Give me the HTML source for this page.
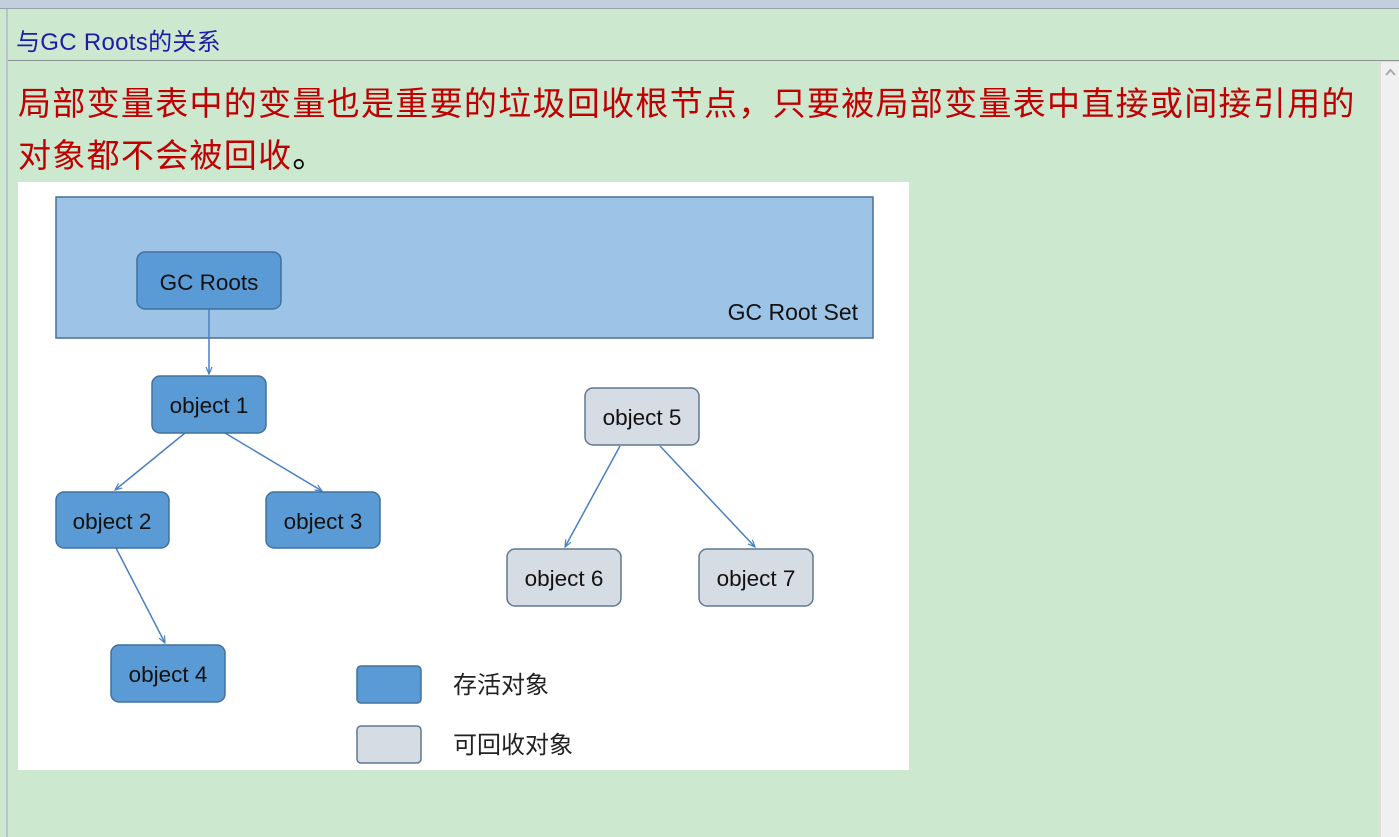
<!DOCTYPE html>
<html><head><meta charset="utf-8"><style>
body{margin:0;width:1399px;height:837px;background:#cce8cf;position:relative;overflow:hidden;font-family:"Liberation Sans","Noto Sans CJK SC",sans-serif}
.top{position:absolute;left:0;top:0;width:1399px;height:8px;background:#c3cfdc;border-bottom:1px solid #9aa3ad}
.lb{position:absolute;left:6px;top:9px;width:2px;height:828px;background:#b8c4c8}
.hd{position:absolute;left:16px;top:22px;font-size:24px;color:#1c1ca8;letter-spacing:0.3px}
.hl{position:absolute;left:8px;top:60px;width:1391px;height:1px;background:#8a9090}
.sb{position:absolute;left:1380px;top:62px;width:19px;height:775px;background:#f0f0f0;border-left:1px solid #ddd}
.t{position:absolute;left:18px;top:78px;font-size:33px;line-height:52px;color:#c00000;width:1370px;letter-spacing:1.3px}
.panel{position:absolute;left:18px;top:182px;width:891px;height:588px;background:#fff}
</style></head><body>
<div class="top"></div><div class="lb"></div>
<div class="hd">与GC Roots的关系</div>
<div class="hl"></div>
<div class="sb"><svg width="19" height="20"><path d="M5 13 L9.5 8 L14 13" stroke="#aaa" stroke-width="2" fill="none"/></svg></div>
<div class="t">局部变量表中的变量也是重要的垃圾回收根节点，只要被局部变量表中直接或间接引用的<br>对象都不会被回收<span style="color:#000">。</span></div>
<div class="panel"></div>
<svg style="position:absolute;left:0;top:0" width="1399" height="837">
<defs><marker id="a" markerWidth="8" markerHeight="8" refX="7" refY="4" orient="auto" markerUnits="userSpaceOnUse"><path d="M0,1 L7,4 L0,7" fill="none" stroke="#4a7fc0" stroke-width="1.2"/></marker></defs>
<rect x="56" y="197" width="817" height="141" fill="#9dc3e6" stroke="#4a6e96" stroke-width="1.5"/>
<text x="858" y="320" font-size="23" text-anchor="end" fill="#111">GC Root Set</text>
<g stroke="#4a7fc0" stroke-width="1.5" marker-end="url(#a)">
<line x1="209" y1="309" x2="209" y2="374"/>
<line x1="185" y1="433" x2="115" y2="490"/>
<line x1="225" y1="433" x2="322" y2="491"/>
<line x1="116" y1="548" x2="165" y2="643"/>
<line x1="620" y1="446" x2="565" y2="547"/>
<line x1="660" y1="446" x2="755" y2="547"/>
</g>
<g stroke="#41719c" stroke-width="1.5" fill="#5b9bd5">
<rect x="137" y="252" width="144" height="57" rx="8"/>
<rect x="152" y="376" width="114" height="57" rx="8"/>
<rect x="56" y="492" width="113" height="56" rx="8"/>
<rect x="266" y="492" width="114" height="56" rx="8"/>
<rect x="111" y="645" width="114" height="57" rx="8"/>
<rect x="357" y="666" width="64" height="37" rx="4"/>
</g>
<g stroke="#5f7890" stroke-width="1.5" fill="#d6dce4">
<rect x="585" y="388" width="114" height="57" rx="8"/>
<rect x="507" y="549" width="114" height="57" rx="8"/>
<rect x="699" y="549" width="114" height="57" rx="8"/>
<rect x="357" y="726" width="64" height="37" rx="4"/>
</g>
<g font-size="22.5" text-anchor="middle" fill="#111">
<text x="209" y="290">GC Roots</text>
<text x="209" y="413">object 1</text>
<text x="112" y="529">object 2</text>
<text x="323" y="529">object 3</text>
<text x="168" y="682">object 4</text>
<text x="642" y="425">object 5</text>
<text x="564" y="586">object 6</text>
<text x="756" y="586">object 7</text>
</g>
<g font-size="24" fill="#222">
<text x="453" y="693">存活对象</text>
<text x="453" y="753">可回收对象</text>
</g>
</svg>
</body></html>
